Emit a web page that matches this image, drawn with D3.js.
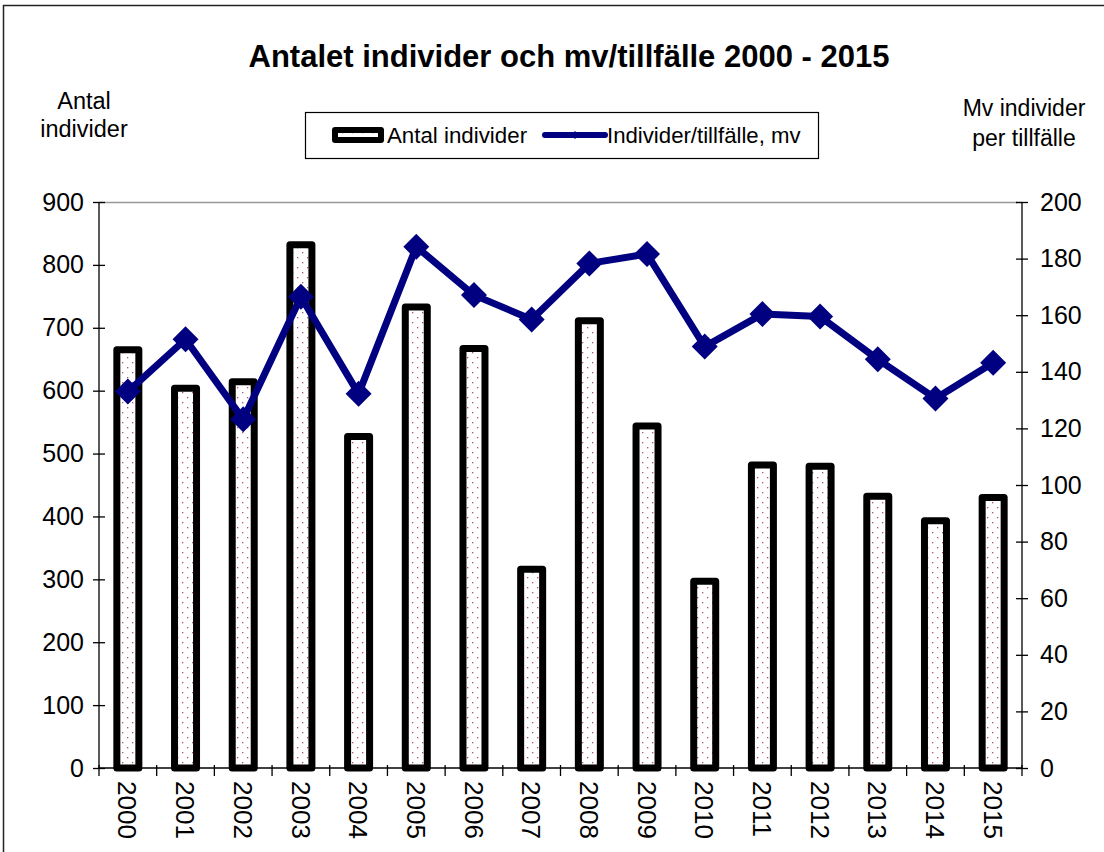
<!DOCTYPE html>
<html><head><meta charset="utf-8">
<script src="https://cdn.jsdelivr.net/npm/d3@7"></script>
<style>body{margin:0;background:#fff;}svg{display:block;font-family:"Liberation Sans",Arial,sans-serif;}</style>
</head><body><svg id="c" width="1104" height="852"></svg>
<script>
const years = ["2000","2001","2002","2003","2004","2005","2006","2007","2008","2009","2010","2011","2012","2013","2014","2015"];
const antalIndivider = [665,604,614,832,527,733,667,316,711,544,297,482,480,432,393,430];
const mvPerTillfalle = [133,151.5,123.2,166.5,132.2,184.2,167.1,158.5,178.3,181.6,148.9,160.4,159.5,144.4,130.6,143.2];
const leftTicks = [0,100,200,300,400,500,600,700,800,900];
const rightTicks = [0,20,40,60,80,100,120,140,160,180,200];

const svg = d3.select("#c");
const L = 99, R = 1022, T = 202, B = 768;

// outer frame
svg.append("rect").attr("x",3.5).attr("y",5.5).attr("width",1200).attr("height",1000)
  .attr("fill","none").attr("stroke","#222").attr("stroke-width",1.5);

const defs = svg.append("defs");
const pat = defs.append("pattern").attr("id","dots").attr("patternUnits","userSpaceOnUse")
  .attr("width",10).attr("height",10);
pat.append("rect").attr("width",10).attr("height",10).attr("fill","#fff");
pat.append("rect").attr("x",2).attr("y",2).attr("width",1.3).attr("height",1.3).attr("fill","#b0507a");
pat.append("rect").attr("x",7).attr("y",7).attr("width",1.3).attr("height",1.3).attr("fill","#b0507a");

const x = d3.scaleBand().domain(years).range([L,R]);
const yL = d3.scaleLinear().domain([0,900]).range([B,T]);
const yR = d3.scaleLinear().domain([0,200]).range([B,T]);

// top plot border
svg.append("line").attr("x1",L).attr("x2",R).attr("y1",T+0.5).attr("y2",T+0.5).attr("stroke","#999").attr("stroke-width",1.5);

// bars
const bw = 22;
svg.append("g").selectAll("rect").data(years).join("rect")
  .attr("x",d=>x(d)+x.bandwidth()/2-bw/2)
  .attr("y",(d,i)=>yL(antalIndivider[i]))
  .attr("width",bw)
  .attr("height",(d,i)=>B-yL(antalIndivider[i]))
  .attr("fill","url(#dots)").attr("stroke","#000").attr("stroke-width",7).attr("stroke-linejoin","round");

// axes
const axL = d3.axisLeft(yL).tickValues(leftTicks).tickSize(6).tickPadding(9);
const gL = svg.append("g").attr("transform",`translate(${L},0)`).call(axL);
const axR = d3.axisRight(yR).tickValues(rightTicks).tickSize(6).tickPadding(12);
const gR = svg.append("g").attr("transform",`translate(${R},0)`).call(axR);
[gL,gR].forEach(g=>{
  g.select(".domain").remove();
  g.selectAll("text").attr("font-size",25).attr("fill","#000").attr("font-family","'Liberation Sans',Arial,sans-serif");
  g.selectAll(".tick line").attr("stroke","#000").attr("stroke-width",1.3);
});
gL.selectAll(".tick line").attr("x1",6).attr("x2",-6);
gR.selectAll(".tick line").attr("x1",-6).attr("x2",6);
svg.append("line").attr("x1",L).attr("x2",L).attr("y1",T).attr("y2",B).attr("stroke","#000").attr("stroke-width",1.3);
svg.append("line").attr("x1",R).attr("x2",R).attr("y1",T).attr("y2",B).attr("stroke","#000").attr("stroke-width",1.3);

// bottom axis
svg.append("line").attr("x1",L).attr("x2",R).attr("y1",B).attr("y2",B).attr("stroke","#000").attr("stroke-width",1.5);
const bounds = years.map(d=>x(d)).concat([R]);
svg.append("g").selectAll("line").data(bounds).join("line")
  .attr("x1",d=>d).attr("x2",d=>d).attr("y1",B-3).attr("y2",B+8).attr("stroke","#000").attr("stroke-width",1.3);
svg.append("g").selectAll("text").data(years).join("text")
  .attr("transform",d=>`translate(${x(d)+x.bandwidth()/2},${B+13}) rotate(90)`)
  .attr("dy","0.36em")
  .attr("font-size",26).attr("fill","#000").text(d=>d);

// line
const line = d3.line().x((d,i)=>x(years[i])+x.bandwidth()/2).y(d=>yR(d));
svg.append("path").datum(mvPerTillfalle).attr("d",line).attr("fill","none")
  .attr("stroke","#000080").attr("stroke-width",7).attr("stroke-linejoin","round");
const dm = 13;
svg.append("g").selectAll("path").data(mvPerTillfalle).join("path")
  .attr("d",(d,i)=>{const cx=x(years[i])+x.bandwidth()/2, cy=yR(d);
    return `M${cx},${cy-dm}L${cx+dm},${cy}L${cx},${cy+dm}L${cx-dm},${cy}Z`;})
  .attr("fill","#000080");

// title
svg.append("text").attr("x",569).attr("y",67).attr("text-anchor","middle")
  .attr("font-size",31).attr("font-weight","bold").attr("fill","#000")
  .text("Antalet individer och mv/tillfälle 2000 - 2015");

// axis titles
const tl = svg.append("text").attr("text-anchor","middle").attr("font-size",23.5).attr("fill","#000");
tl.append("tspan").attr("x",84).attr("y",109).text("Antal");
tl.append("tspan").attr("x",84).attr("y",137).text("individer");
const tr = svg.append("text").attr("text-anchor","middle").attr("font-size",23).attr("fill","#000");
tr.append("tspan").attr("x",1024).attr("y",116).text("Mv individer");
tr.append("tspan").attr("x",1024).attr("y",146).text("per tillfälle");

// legend
const lg = svg.append("g");
lg.append("rect").attr("x",305.5).attr("y",112.5).attr("width",513).attr("height",46)
  .attr("fill","#fff").attr("stroke","#000").attr("stroke-width",1.2);
lg.append("rect").attr("x",335).attr("y",130).attr("width",46).attr("height",10)
  .attr("fill","url(#dots)").attr("stroke","#000").attr("stroke-width",6).attr("stroke-linejoin","round");
lg.append("text").attr("x",387).attr("y",143).attr("font-size",22.3).attr("fill","#000").text("Antal individer");
lg.append("line").attr("x1",545).attr("x2",605).attr("y1",135).attr("y2",135)
  .attr("stroke","#000080").attr("stroke-width",6).attr("stroke-linecap","round");
lg.append("path").attr("d","M575,131L579,135L575,139L571,135Z").attr("fill","#000080");
lg.append("text").attr("x",607).attr("y",143).attr("font-size",22.2).attr("fill","#000").text("Individer/tillfälle, mv");
</script></body></html>
